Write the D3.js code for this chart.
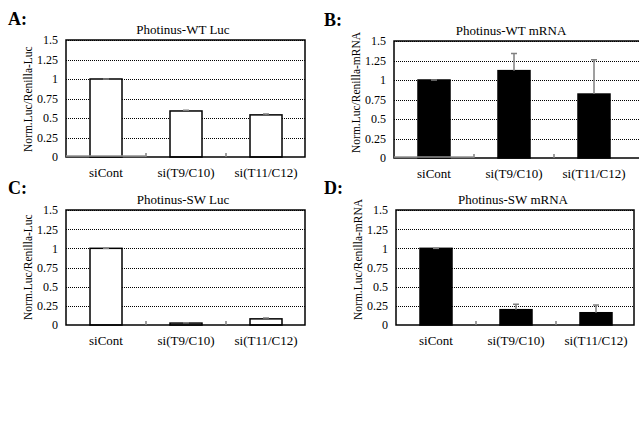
<!DOCTYPE html>
<html>
<head>
<meta charset="utf-8">
<script src="https://cdn.jsdelivr.net/npm/d3@7"></script>
<style>
  body { margin: 0; background: #fff; }
</style>
</head>
<body>
<div id="chart"></div>
<script>
// categories and values
const categories = ["siCont", "si(T9/C10)", "si(T11/C12)"];
const yTicks = [0, 0.25, 0.5, 0.75, 1, 1.25, 1.5];
const yTickLabels = ["0", "0.25", "0.5", "0.75", "1", "1.25", "1.5"];

const wtLuc = [1.0, 0.59, 0.54];
const wtLucErr = [0, 0.01, 0.01];
const wtMrna = [1.0, 1.12, 0.82];
const wtMrnaErr = [0, 0.22, 0.44];
const swLuc = [1.0, 0.025, 0.08];
const swLucErr = [0, 0.003, 0.01];
const swMrna = [1.0, 0.2, 0.16];
const swMrnaErr = [0, 0.07, 0.1];

const FONT = "'Liberation Serif', 'Times New Roman', serif";

const panels = [
  { letter: "A:", title: "Photinus-WT Luc", ylabel: "Norm.Luc/Renilla-Luc",
    values: wtLuc, err: wtLucErr, fill: "#fff",
    left: 66, top: 40, bottom: 157, frameRight: 305, grayBase: true,
    letterX: 8, letterY: 25 },
  { letter: "B:", title: "Photinus-WT mRNA", ylabel: "Norm.Luc/Renilla-mRNA",
    values: wtMrna, err: wtMrnaErr, fill: "#000",
    left: 394, top: 41, bottom: 158, frameRight: 645, grayBase: true,
    letterX: 324, letterY: 26 },
  { letter: "C:", title: "Photinus-SW Luc", ylabel: "Norm.Luc/Renilla-Luc",
    values: swLuc, err: swLucErr, fill: "#fff",
    left: 66, top: 210, bottom: 325, frameRight: 305, grayBase: false,
    letterX: 8, letterY: 194 },
  { letter: "D:", title: "Photinus-SW mRNA", ylabel: "Norm.Luc/Renilla-mRNA",
    values: swMrna, err: swMrnaErr, fill: "#000",
    left: 396, top: 210, bottom: 325, frameRight: 634, grayBase: false,
    letterX: 324, letterY: 194 }
];

const svg = d3.select("#chart").append("svg")
  .attr("width", 639)
  .attr("height", 436)
  .attr("font-family", FONT);

panels.forEach(p => {
  const plotW = 240;
  const x = d3.scaleBand().domain(categories).range([p.left, p.left + plotW])
    .paddingInner(0.6).paddingOuter(0.3);
  const y = d3.scaleLinear().domain([0, 1.5]).range([p.bottom, p.top]);
  const g = svg.append("g");

  // panel letter
  g.append("text")
    .attr("x", p.letterX).attr("y", p.letterY)
    .attr("font-family", FONT)
    .attr("font-size", 18).attr("font-weight", "bold")
    .text(p.letter);

  // title
  g.append("text")
    .attr("x", p.left + plotW / 2 - 3).attr("y", p.top - 6)
    .attr("text-anchor", "middle").attr("font-size", 13)
    .attr("font-family", FONT)
    .text(p.title);

  // dotted gridlines
  g.selectAll(".grid").data(yTicks.slice(1))
    .enter().append("line")
    .attr("x1", p.left).attr("x2", p.frameRight)
    .attr("y1", d => Math.round(y(d)) + 0.5).attr("y2", d => Math.round(y(d)) + 0.5)
    .attr("stroke", "#000").attr("stroke-width", 1)
    .attr("stroke-dasharray", "1,1");

  // y axis
  const yAxis = d3.axisLeft(y).tickValues(yTicks)
    .tickFormat((d, i) => yTickLabels[i]).tickSize(0).tickPadding(8);
  const ya = g.append("g").attr("transform", `translate(${p.left},0)`).call(yAxis)
    .attr("font-family", FONT).attr("font-size", 12);
  ya.select(".domain").remove();
  ya.selectAll("text").attr("fill", "#000");

  // y label, bottom-aligned near the base of the plot
  g.append("text")
    .attr("transform", `translate(${p.left - 34},${p.bottom - 5}) rotate(-90)`)
    .attr("text-anchor", "start").attr("font-size", 11.5)
    .attr("font-family", FONT)
    .text(p.ylabel);

  // bars
  g.selectAll(".bar").data(p.values)
    .enter().append("rect")
    .attr("x", (d, i) => x(categories[i]))
    .attr("y", d => y(d))
    .attr("width", x.bandwidth())
    .attr("height", d => y(0) - y(d))
    .attr("fill", p.fill)
    .attr("stroke", "#000").attr("stroke-width", 1.5);

  // error bars (upper only)
  g.selectAll(".err").data(p.values)
    .enter().append("path")
    .attr("d", (d, i) => {
      const cx = x(categories[i]) + x.bandwidth() / 2;
      const yt = y(d + p.err[i]);
      return `M${cx},${y(d)}V${yt}M${cx - 3},${yt}H${cx + 3}`;
    })
    .attr("fill", "none").attr("stroke", "#808080").attr("stroke-width", 1.5);

  // frame
  g.append("rect")
    .attr("x", p.left).attr("y", p.top)
    .attr("width", p.frameRight - p.left).attr("height", p.bottom - p.top)
    .attr("fill", "none").attr("stroke", "#000").attr("stroke-width", 1.5);

  // category separator marks on the base line
  const step = x.step();
  g.selectAll(".sep").data([1, 2])
    .enter().append("line")
    .attr("x1", d => p.left + d * step).attr("x2", d => p.left + d * step)
    .attr("y1", p.bottom).attr("y2", p.bottom - 4)
    .attr("stroke", "#808080").attr("stroke-width", 1.5);

  if (p.grayBase) {
    g.append("line")
      .attr("x1", p.left).attr("x2", p.left + step)
      .attr("y1", p.bottom - 1).attr("y2", p.bottom - 1)
      .attr("stroke", "#909090").attr("stroke-width", 1.5);
  }

  // x axis labels
  const xAxis = d3.axisBottom(x).tickSize(0).tickPadding(11);
  const xa = g.append("g").attr("transform", `translate(0,${p.bottom})`).call(xAxis)
    .attr("font-family", FONT).attr("font-size", 13);
  xa.select(".domain").remove();
  xa.selectAll("text").attr("fill", "#000");
});
</script>
</body>
</html>
